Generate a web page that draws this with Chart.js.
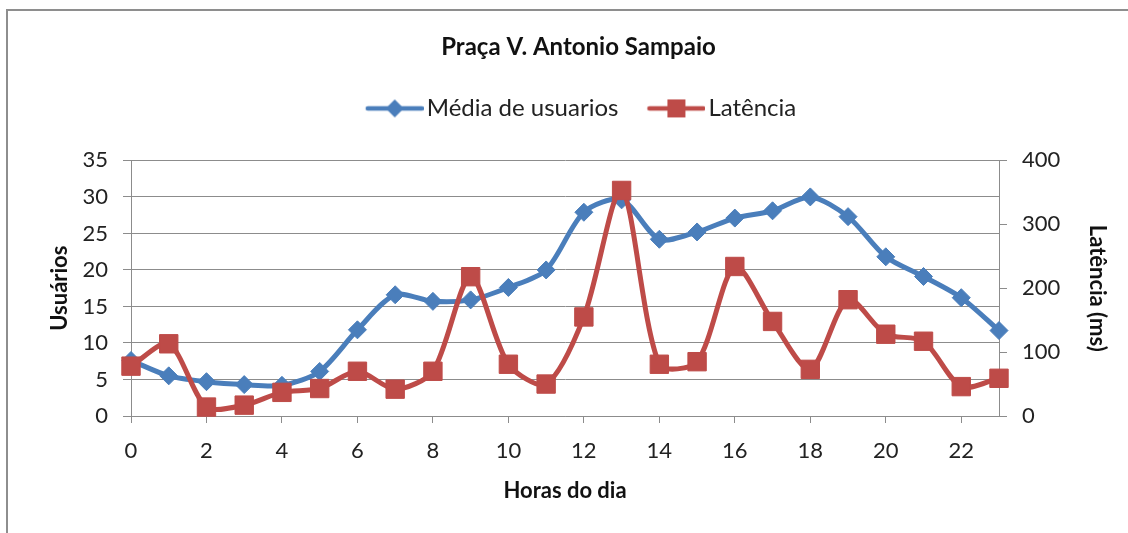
<!DOCTYPE html>
<html>
<head>
<meta charset="utf-8">
<script src="https://cdn.jsdelivr.net/npm/chart.js@4.4.1/dist/chart.umd.min.js"></script>
<style>
  html, body { margin: 0; padding: 0; background: #fff; }
  #wrap { position: relative; width: 1128px; height: 533px; }
  #frame { position: absolute; left: 6px; top: 9px; right: -4px; bottom: -4px; border-top: 2px solid #8e8e8e; border-left: 2px solid #8e8e8e; }
  canvas { position: absolute; left: 0; top: 0; }
</style>
</head>
<body>
<div id="wrap">
  <div id="frame"></div>
  <canvas id="chart" width="1128" height="533"></canvas>
</div>
<script>
const hours = [0,1,2,3,4,5,6,7,8,9,10,11,12,13,14,15,16,17,18,19,20,21,22,23];
const usuarios = [7.6,5.5,4.7,4.3,4.2,6.1,11.8,16.6,15.7,15.9,17.6,20.0,27.9,29.6,24.2,25.2,27.1,28.1,30.0,27.3,21.8,19.1,16.2,11.7];
const latencia = [78,113,14,17,37,43,70,42,70,218,81,50,155,353,81,85,234,148,73,182,128,117,46,59];
const leftTicks = [0,5,10,15,20,25,30,35];
const rightTicks = [0,100,200,300,400];

const BLUE = '#4a7ebb';
const RED = '#be4b48';
const GRID = '#8c8c8c';
const FONT = 'Lato, "Noto Sans", sans-serif';

// legend icon: line with the marker in the middle
function legendIcon(color, style) {
  const c = document.createElement('canvas');
  c.width = 72; c.height = 24;
  const g = c.getContext('2d');
  g.strokeStyle = color; g.lineWidth = 4.5; g.lineCap = 'round';
  g.beginPath(); g.moveTo(16, 12); g.lineTo(70, 12); g.stroke();
  g.fillStyle = color;
  g.beginPath();
  if (style === 'diamond') {
    g.moveTo(43, 3); g.lineTo(52, 12); g.lineTo(43, 21); g.lineTo(34, 12); g.closePath();
  } else {
    g.rect(34, 3, 18, 18);
  }
  g.fill();
  return c;
}

const legendGap = {
  id: 'legendGap',
  beforeInit(chart) {
    const fit = chart.legend.fit;
    chart.legend.fit = function () { fit.call(this); this.height += 30; };
  }
};

const pts = (arr) => hours.map((h, i) => ({ x: h, y: arr[i] }));

new Chart(document.getElementById('chart'), {
  type: 'line',
  data: {
    datasets: [
      { label: 'Média de usuarios', data: pts(usuarios), yAxisID: 'y', borderColor: BLUE, backgroundColor: BLUE,
        borderWidth: 5, pointStyle: 'rectRot', pointRadius: 9, pointBorderWidth: 1, tension: 0.28, clip: false, order: 1,
        icon: legendIcon(BLUE, 'diamond') },
      { label: 'Latência', data: pts(latencia), yAxisID: 'y2', borderColor: RED, backgroundColor: RED,
        borderWidth: 5, pointStyle: 'rect', pointRadius: 13, pointBorderWidth: 1, tension: 0.28, clip: false, order: 0,
        icon: legendIcon(RED, 'square') }
    ]
  },
  options: {
    responsive: false,
    animation: false,
    layout: { padding: { left: 43, right: 14, top: 26, bottom: 25 } },
    plugins: {
      tooltip: { enabled: false },
      title: { display: true, text: 'Praça V. Antonio Sampaio', color: '#111',
        font: { family: FONT, size: 24, weight: 'bold' }, padding: { top: 7, bottom: 10.6 } },
      legend: {
        position: 'top',
        labels: {
          usePointStyle: true, pointStyleWidth: 54, boxHeight: 24, padding: 24,
          color: '#222', font: { family: FONT, size: 24 },
          generateLabels: (chart) => chart.data.datasets.map((ds, i) => ({
            text: ds.label, datasetIndex: i, pointStyle: ds.icon, fillStyle: ds.borderColor,
            strokeStyle: ds.borderColor, lineWidth: 0, fontColor: '#222'
          }))
        }
      }
    },
    scales: {
      x: {
        type: 'linear', min: 0, max: 23,
        border: { display: true, color: GRID, width: 1 },
        grid: { drawOnChartArea: false, color: GRID, tickLength: 7 },
        ticks: { stepSize: 2, includeBounds: false, padding: 15, color: '#222', font: { family: FONT, size: 22 } },
        title: { display: true, text: 'Horas do dia', color: '#111', font: { family: FONT, size: 22, weight: 'bold' }, padding: { top: 4, bottom: 4 } },
        afterFit: (s) => { s.height = 92; }
      },
      y: {
        position: 'left', min: 0, max: 35,
        border: { display: true, color: GRID, width: 1 },
        grid: { color: GRID, lineWidth: 1, tickLength: 8 },
        ticks: { stepSize: 5, padding: 15, color: '#222', font: { family: FONT, size: 22 } },
        afterBuildTicks: (s) => { s.ticks = leftTicks.map(v => ({ value: v })); },
        title: { display: true, text: 'Usuários', color: '#111', font: { family: FONT, size: 22, weight: 'bold' }, padding: { top: 4, bottom: 4 } },
        afterFit: (s) => { s.width = 88; }
      },
      y2: {
        position: 'right', min: 0, max: 400,
        border: { display: true, color: GRID, width: 1 },
        grid: { drawOnChartArea: false, color: GRID, tickLength: 8 },
        ticks: { stepSize: 100, padding: 15, color: '#222', font: { family: FONT, size: 22 } },
        afterBuildTicks: (s) => { s.ticks = rightTicks.map(v => ({ value: v })); },
        title: { display: true, text: 'Latência (ms)', color: '#111', font: { family: FONT, size: 22, weight: 'bold' }, padding: { top: 4, bottom: 4 } },
        afterFit: (s) => { s.width = 115; }
      }
    }
  },
  plugins: [legendGap]
});
</script>
</body>
</html>
